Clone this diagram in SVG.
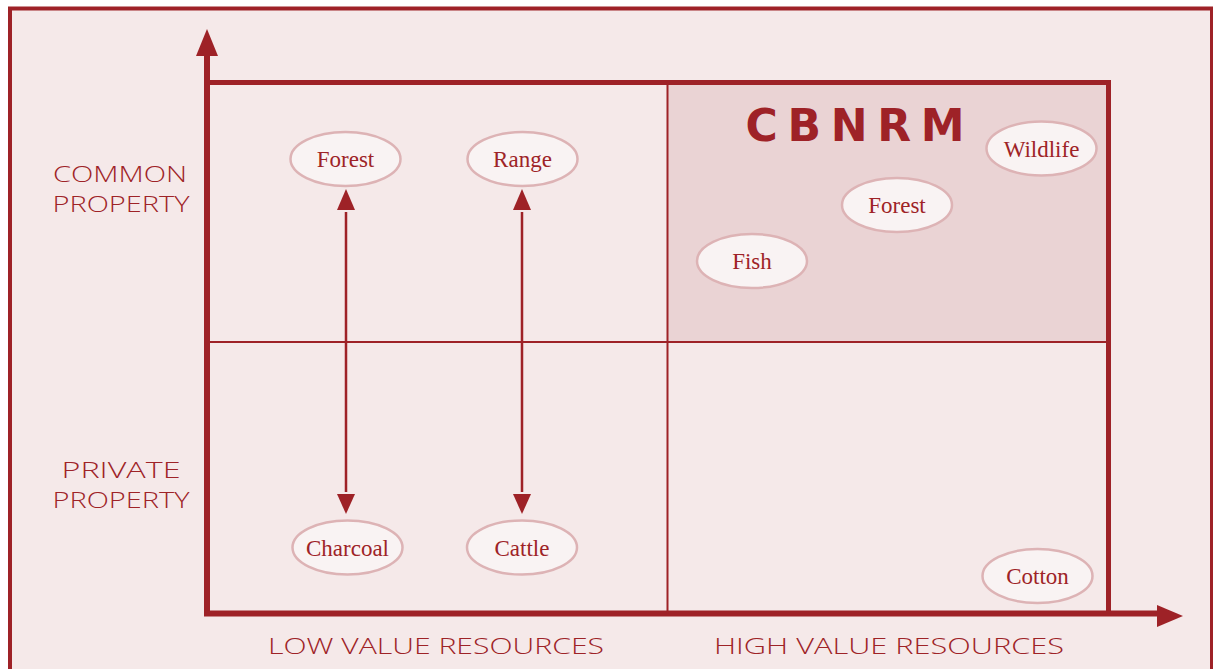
<svg xmlns="http://www.w3.org/2000/svg" width="1213" height="669" viewBox="0 0 1213 669">
<defs>
<style>
.node ellipse{fill:#f9f3f3;stroke:#ddb3b5;stroke-width:2.5}
.node text{font-family:"Liberation Serif",serif;font-size:23px;fill:#9e2327;text-anchor:middle}
.axis{font-family:"Open Sans","DejaVu Sans",sans-serif;font-size:22px;fill:#9e2327;text-anchor:middle;font-weight:300}
.dark{stroke:#9e2227;fill:none}
</style>
</defs>
<rect x="0" y="0" width="1213" height="669" fill="#ffffff"/>
<rect x="10" y="8.5" width="1203" height="670" fill="#f5e9e9"/>
<path class="dark" d="M10,680 V8.5 H1212 V680" stroke-width="4"/>
<rect x="668" y="85" width="438" height="256" fill="#ead3d4"/>
<g id="frame">
<path class="dark" d="M207,613.5 V50" stroke-width="6"/>
<path d="M196,56 L207,29 L218,56 Z" fill="#9e2227"/>
<path class="dark" d="M204,613.5 H1163" stroke-width="6"/>
<path d="M1157,605 L1183,616 L1157,627 Z" fill="#9e2227"/>
<path class="dark" d="M207,82.5 H1108.5 V613.5" stroke-width="5"/>
<path class="dark" d="M667.5,82.5 V613.5 M207,342 H1108.5" stroke-width="2"/>
</g>
<g id="connectors">
<line x1="346" y1="212" x2="346" y2="492" stroke="#9e2227" stroke-width="2.5"/>
<path d="M337,210 L346,189 L355,210 Z" fill="#9e2227"/>
<path d="M337,494 L346,514 L355,494 Z" fill="#9e2227"/>
<line x1="522" y1="212" x2="522" y2="492" stroke="#9e2227" stroke-width="2.5"/>
<path d="M513,210 L522,189 L531,210 Z" fill="#9e2227"/>
<path d="M513,494 L522,514 L531,494 Z" fill="#9e2227"/>
</g>
<g id="n-forest1" class="node"><ellipse cx="345.5" cy="159" rx="55" ry="27"/><text x="345.5" y="167">Forest</text></g>
<g id="n-range" class="node"><ellipse cx="522.5" cy="159" rx="55" ry="27"/><text x="522.5" y="167">Range</text></g>
<g id="n-charcoal" class="node"><ellipse cx="347.5" cy="547.5" rx="55" ry="27"/><text x="347.5" y="555.5">Charcoal</text></g>
<g id="n-cattle" class="node"><ellipse cx="522" cy="547.5" rx="55" ry="27"/><text x="522" y="555.5">Cattle</text></g>
<g id="n-wildlife" class="node"><ellipse cx="1041.5" cy="148.5" rx="55" ry="27"/><text x="1041.5" y="156.5">Wildlife</text></g>
<g id="n-forest2" class="node"><ellipse cx="897" cy="205" rx="55" ry="27"/><text x="897" y="213">Forest</text></g>
<g id="n-fish" class="node"><ellipse cx="752" cy="261" rx="55" ry="27"/><text x="752" y="269">Fish</text></g>
<g id="n-cotton" class="node"><ellipse cx="1037.5" cy="576" rx="55" ry="27"/><text x="1037.5" y="584">Cotton</text></g>
<g id="labels">
<text class="axis" x="120" y="182" textLength="134" lengthAdjust="spacingAndGlyphs">COMMON</text>
<text class="axis" x="121" y="212" textLength="137" lengthAdjust="spacingAndGlyphs">PROPERTY</text>
<text class="axis" x="121" y="478" textLength="119" lengthAdjust="spacingAndGlyphs">PRIVATE</text>
<text class="axis" x="121" y="508" textLength="137" lengthAdjust="spacingAndGlyphs">PROPERTY</text>
<text class="axis" x="436" y="654" textLength="336" lengthAdjust="spacingAndGlyphs">LOW VALUE RESOURCES</text>
<text class="axis" x="889" y="654" textLength="350" lengthAdjust="spacingAndGlyphs">HIGH VALUE RESOURCES</text>
<text x="855" y="141" font-family="'DejaVu Sans','Liberation Sans',sans-serif" font-size="44" font-weight="bold" fill="#9e2227" text-anchor="middle" textLength="219" lengthAdjust="spacing">CBNRM</text>
</g>
</svg>
